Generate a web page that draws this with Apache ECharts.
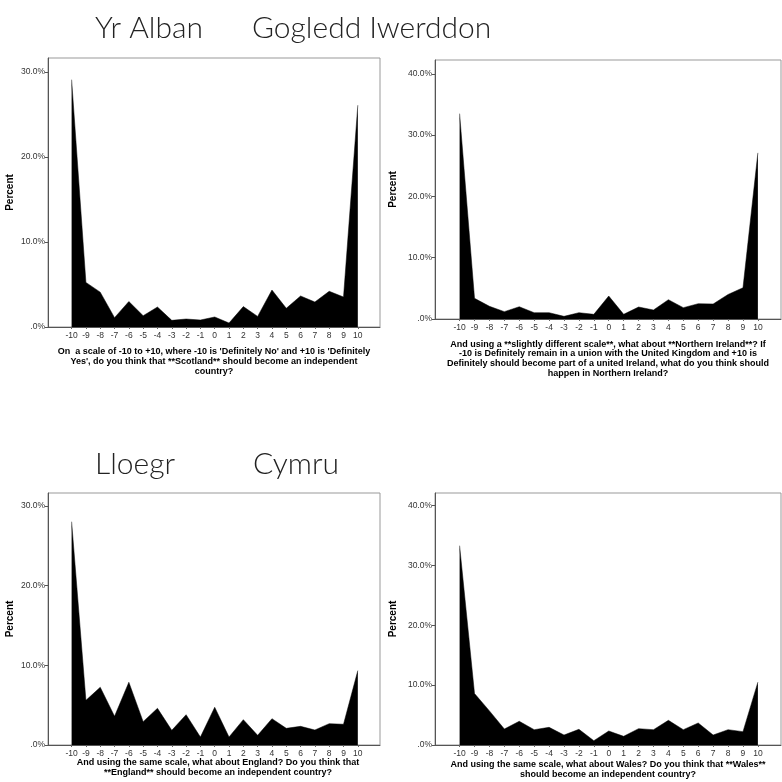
<!DOCTYPE html>
<html><head><meta charset="utf-8">
<script src="https://cdn.jsdelivr.net/npm/echarts@6/dist/echarts.min.js"></script>
<style>html,body{margin:0;padding:0;background:#fff}#c{width:782px;height:782px}</style>
</head><body><div id="c"></div>
<script>
const categories = [-10,-9,-8,-7,-6,-5,-4,-3,-2,-1,0,1,2,3,4,5,6,7,8,9,10];
const scotland = [29.1,5.25,4.1,1.1,3.0,1.33,2.35,0.78,0.94,0.82,1.18,0.47,2.4,1.25,4.35,2.2,3.65,2.94,4.2,3.53,26.1];
const northernIreland = [33.5,3.37,2.07,1.2,2.0,1.03,1.03,0.43,1.03,0.76,3.75,0.76,1.96,1.47,3.15,1.85,2.5,2.45,4.0,5.1,27.1];
const england = [28.0,5.6,7.24,3.6,7.87,2.93,4.6,1.84,3.8,1.0,4.73,1.0,3.18,1.21,3.3,2.09,2.34,1.88,2.68,2.6,9.33];
const wales = [33.3,8.6,5.7,2.67,3.96,2.56,2.95,1.67,2.62,0.72,2.34,1.45,2.73,2.56,4.12,2.56,3.68,1.67,2.56,2.23,10.5];
const yTicks30 = [0,10,20,30];
const yTicks40 = [0,10,20,30,40];
const panelTitles = ['Yr Alban','Gogledd Iwerddon','Lloegr','Cymru'];
const xNames = [
  "On  a scale of -10 to +10, where -10 is 'Definitely No' and +10 is 'Definitely\nYes', do you think that **Scotland** should become an independent\ncountry?",
  "And using a **slightly different scale**, what about **Northern Ireland**? If\n-10 is Definitely remain in a union with the United Kingdom and +10 is\nDefinitely should become part of a united Ireland, what do you think should\nhappen in Northern Ireland?",
  "And using the same scale, what about England? Do you think that\n**England** should become an independent country?",
  "And using the same scale, what about Wales? Do you think that **Wales**\nshould become an independent country?"
];

const panels = [
  {vals: scotland, ticks: yTicks30, yMax: 31.65, grid:{left:48,top:58,width:332,height:269}, nameGap:33, xn:{x:214,y:347,lh:10}},
  {vals: northernIreland, ticks: yTicks40, yMax: 42.25, grid:{left:435,top:60,width:346,height:259}, nameGap:37, xn:{x:608,y:339.5,lh:9.6}},
  {vals: england, ticks: yTicks30, yMax: 31.6, grid:{left:48,top:493,width:332,height:252}, nameGap:33, xn:{x:218,y:758,lh:10}},
  {vals: wales, ticks: yTicks40, yMax: 42.1, grid:{left:435,top:493,width:346,height:252}, nameGap:37, xn:{x:608,y:760,lh:10}}
];

const fontSmall = '"Liberation Sans", Arial, sans-serif';
const grids = [], xAxes = [], yAxes = [], series = [];
panels.forEach((p, i) => {
  grids.push(Object.assign({show:true, borderColor:'#999', borderWidth:1, backgroundColor:'transparent'}, p.grid));
  xAxes.push({
    type:'value', gridIndex:i, min:-11.65, max:11.55,
    axisLine:{show:true, onZero:false, lineStyle:{color:'#555', width:1}},
    axisTick:{show:true, customValues:categories, length:2, lineStyle:{color:'#666'}},
    axisLabel:{customValues:categories, fontSize:8.5, color:'#333', margin:4, fontFamily:fontSmall},
    splitLine:{show:false}
  });
  yAxes.push({
    type:'value', gridIndex:i, min:0, max:p.yMax,
    axisLine:{show:true, onZero:false, lineStyle:{color:'#555', width:1}},
    axisTick:{show:true, customValues:p.ticks, length:3, lineStyle:{color:'#555'}},
    axisLabel:{customValues:p.ticks, fontSize:8.5, color:'#333', margin:3, fontFamily:fontSmall,
      formatter: v => v === 0 ? '.0%' : v.toFixed(1) + '%'},
    splitLine:{show:false},
    name:'Percent', nameLocation:'middle', nameGap:p.nameGap, nameRotate:90,
    nameTextStyle:{fontWeight:'bold', fontSize:10, color:'#000', fontFamily:fontSmall}
  });
  series.push({
    type:'line', xAxisIndex:i, yAxisIndex:i, symbol:'none', silent:true,
    data: categories.map((c, j) => [c, p.vals[j]]),
    lineStyle:{color:'#000', width:0.5},
    areaStyle:{color:'#000', opacity:1}
  });
});

const graphics = [];
const titlePos = [[95,28],[252,28],[95,464],[253,464]];
panelTitles.forEach((t, i) => {
  graphics.push({type:'text', x:titlePos[i][0], y:titlePos[i][1],
    style:{text:t, font:'300 30px Lato, sans-serif', fill:'#222', align:'left', verticalAlign:'middle'}});
});
panels.forEach((p, i) => {
  graphics.push({type:'text', x:p.xn.x, y:p.xn.y,
    style:{text:xNames[i], font:'bold 9px "Liberation Sans", Arial, sans-serif', fill:'#000',
      align:'center', verticalAlign:'top', lineHeight:p.xn.lh}});
});

const chart = echarts.init(document.getElementById('c'));
chart.setOption({
  animation:false,
  grid:grids, xAxis:xAxes, yAxis:yAxes, series:series, graphic:graphics
});
</script></body></html>
